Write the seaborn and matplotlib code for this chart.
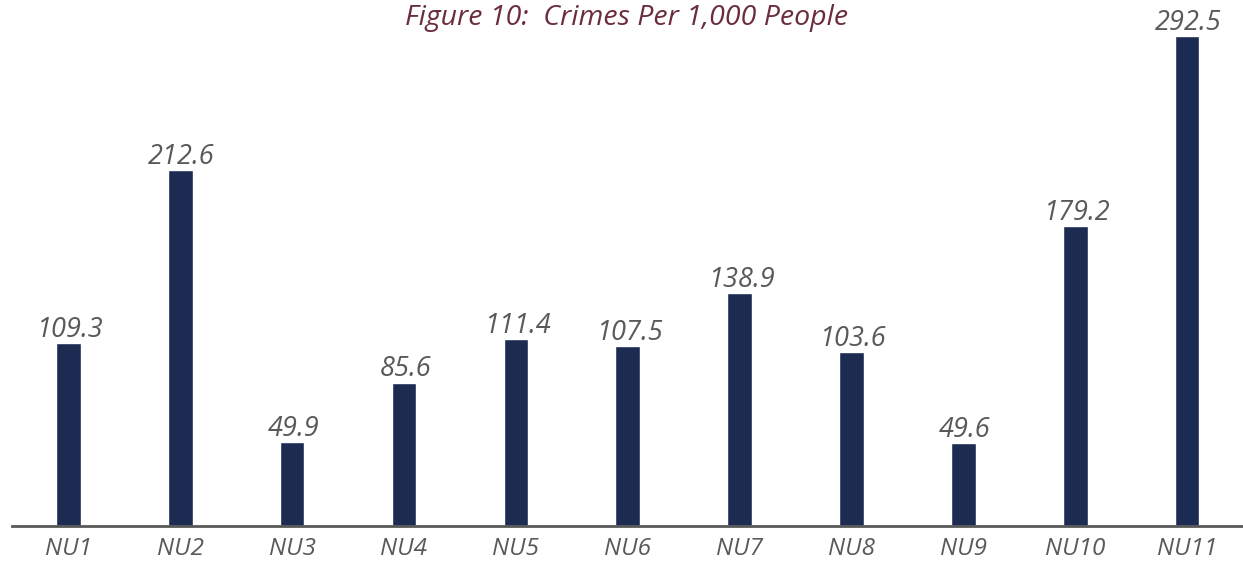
import matplotlib
matplotlib.use("Agg")
import matplotlib.pyplot as plt
import pandas as pd
import seaborn as sns

sns.set_style("white")
plt.rcParams['font.family'] = ['Open Sans', 'DejaVu Sans']

areas = ["NU1", "NU2", "NU3", "NU4", "NU5", "NU6", "NU7", "NU8", "NU9", "NU10", "NU11"]
crimes_per_1000 = [109.3, 212.6, 49.9, 85.6, 111.4, 107.5, 138.9, 103.6, 49.6, 179.2, 292.5]
title = "Figure 10:  Crimes Per 1,000 People"

bar_color = "#1b2b52"
text_gray = "#595959"
title_color = "#6b2d3c"

df = pd.DataFrame({"area": areas, "rate": crimes_per_1000})

fig = plt.figure(figsize=(12.43, 5.63), dpi=100)
ax = fig.add_axes([0.01, 0.0657, 0.99, 0.9343])

sns.barplot(data=df, x="area", y="rate", color=bar_color, width=0.22,
            saturation=1, ax=ax)

# value labels above each bar
for i, v in enumerate(crimes_per_1000):
    ax.annotate(f"{v:.1f}", (i, v), xytext=(1, 4.5), textcoords="offset points",
                ha="center", va="baseline", fontsize=19.5, style="italic",
                color=text_gray, annotation_clip=False)

ax.set_xlim(-0.5, 10.5)
ax.set_ylim(0, 314)
ax.set_xlabel("")
ax.set_ylabel("")
ax.set_yticks([])
ax.tick_params(axis="x", length=0, pad=8, labelsize=17.5, labelcolor=text_gray)
for lbl in ax.get_xticklabels():
    lbl.set_fontstyle("italic")

for side in ["top", "right", "left"]:
    ax.spines[side].set_visible(False)
ax.spines["bottom"].set_color(text_gray)
ax.spines["bottom"].set_linewidth(2)

fig.text(0.504, 0.968, title, ha="center", va="center", fontsize=20.5,
         style="italic", color=title_color)

fig.savefig("out.png", dpi=100)
